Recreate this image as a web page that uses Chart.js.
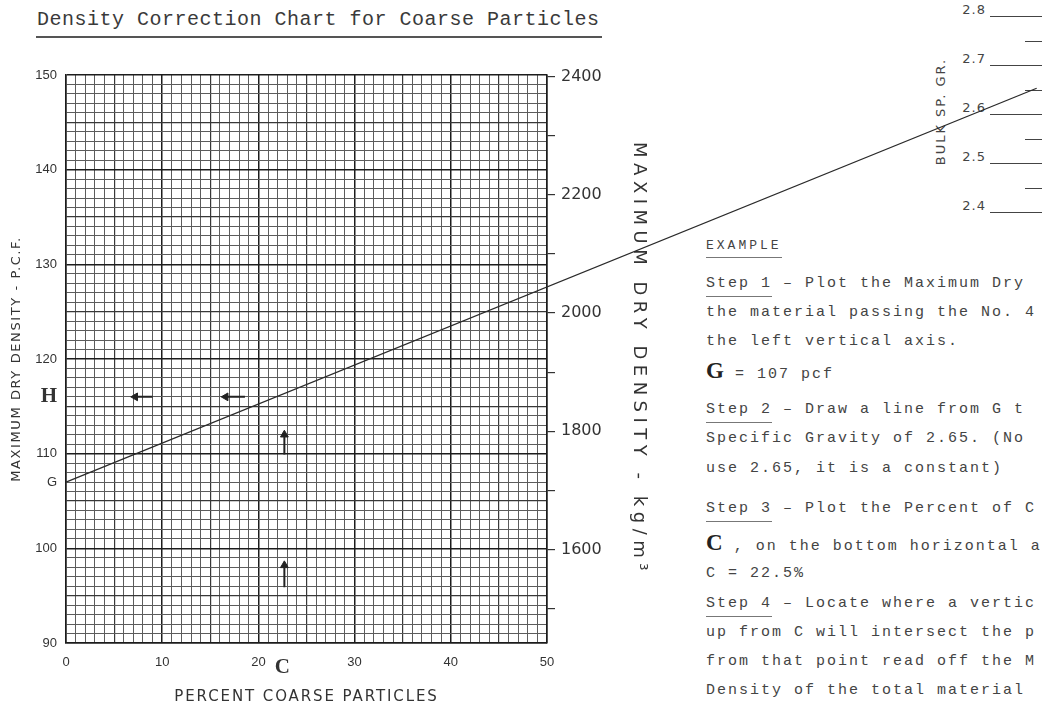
<!DOCTYPE html>
<html>
<head>
<meta charset="utf-8">
<title>Density Correction Chart for Coarse Particles</title>
<script src="https://cdn.jsdelivr.net/npm/chart.js@4.4.1/dist/chart.umd.min.js"></script>
<style>
    html, body { margin: 0; padding: 0; background: #fff; }
    #page { position: relative; width: 1042px; height: 707px; overflow: hidden; background: #fff; }
    #chartBox { position: absolute; left: 0; top: 0; width: 1042px; height: 707px; z-index: 2; }
    .txt { position: absolute; white-space: nowrap; color: #444; z-index: 1; }
    .mono { font-family: "Liberation Mono", "DejaVu Sans Mono", monospace; font-size: 15px; letter-spacing: 2px; line-height: 18px; }
    .ul { border-bottom: 1px solid #777; padding-bottom: 4px; }
    .big { font-family: "Liberation Serif", "DejaVu Serif", serif; font-weight: bold; font-size: 23px; color: #222; letter-spacing: 0; }
    #chartTitle { left: 37px; top: 8px; font-family: "Liberation Mono", monospace; font-size: 20px; letter-spacing: 0.5px; color: #3a3a3a; }
    #titleRule { position: absolute; left: 36px; top: 36px; width: 566px; height: 0; border-top: 2px solid #555; }
    .spLine { position: absolute; height: 0; border-top: 1.3px solid #444; z-index: 1; }
    .spLabel { position: absolute; width: 40px; text-align: right; font-family: "DejaVu Sans", sans-serif; font-size: 13px; letter-spacing: 1px; color: #444; }
    #spTitle { left: 882px; top: 104px; width: 116px; text-align: center; font-family: "DejaVu Sans", sans-serif; font-size: 13px; letter-spacing: 2px; transform: rotate(-90deg); }
</style>
</head>
<body>
<div id="page">
    <div class="txt" id="chartTitle">Density Correction Chart for Coarse Particles</div>
    <div id="titleRule"></div>
    <div class="txt" id="spTitle">BULK SP. GR.</div>
    <div id="spScale"></div>
    <div id="example"></div>
    <div id="chartBox"><canvas id="densityChart"></canvas></div>
</div>
<script>
// values
const percentLabels = [0, 10, 20, 30, 40, 50];
const pcfLabels = [90, 100, 110, 120, 130, 140, 150];
const kgLabels = [1600, 1800, 2000, 2200, 2400];
const kgMinorTicks = [1500, 1700, 1900, 2100, 2300];
const correctionPercent = [0, 100.9];      // from G out to 2.65 on the bulk sp. gr. scale
const correctionPcf = [107, 148.6];
const pointG = 107;
const pointH = 116;
const pointC = 22.5;
const leftArrowHeadX = [7.2, 16.6];
const leftArrowTailX = [9.0, 18.6];
const upArrowHeadY = [112.0, 98.2];
const upArrowTailY = [109.9, 95.9];
const upArrowX = 22.7;
const spGrMajor = [2.4, 2.5, 2.6, 2.7, 2.8];
const spGrMinor = [2.45, 2.55, 2.65, 2.75];

const PCF_TO_KG = 16.0185;
const INK = '#333';

// every unit of the graph paper
const percentGrid = [];
for (let i = 0; i <= 50; i++) percentGrid.push(i);
const pcfGrid = [];
for (let i = 90; i <= 150; i++) pcfGrid.push(i);

function gridColor(v) {
    if (!Number.isInteger(v)) return 'rgba(0,0,0,0)';
    if (v % 10 === 0) return '#1c1c1c';
    if (v % 5 === 0) return '#383838';
    return '#5c5c5c';
}
function gridWidth(v) {
    if (v % 10 === 0) return 1.5;
    if (v % 5 === 0) return 1.2;
    return 1;
}

// letter spaced axis titles, like the stencil lettering on the original
const titleSpacing = { x: '1.9px', y: '1.6px', y2: '5.5px' };
class SpacedLinearScale extends Chart.LinearScale {
    static id = 'spacedLinear';
    static defaults = Chart.LinearScale.defaults;
    drawTitle() {
        const ctx = this.ctx;
        ctx.letterSpacing = titleSpacing[this.id] || '0px';
        super.drawTitle();
        ctx.letterSpacing = '0px';
    }
}
Chart.register(SpacedLinearScale);

const stems = [];
leftArrowHeadX.forEach((hx, i) => {
    stems.push({ x: hx, y: pointH }, { x: leftArrowTailX[i], y: pointH }, { x: leftArrowTailX[i], y: null });
});
upArrowHeadY.forEach((hy, i) => {
    stems.push({ x: upArrowX, y: hy }, { x: upArrowX, y: upArrowTailY[i] }, { x: upArrowX, y: null });
});
const heads = leftArrowHeadX.map(x => ({ x: x, y: pointH })).concat(upArrowHeadY.map(y => ({ x: upArrowX, y: y })));
const headRotation = leftArrowHeadX.map(() => -90).concat(upArrowHeadY.map(() => 0));

const labelFont = { family: 'Liberation Sans', size: 13 };
const markFont = { family: 'Liberation Serif', size: 21, weight: 'bold' };

const ctx = document.getElementById('densityChart');
new Chart(ctx, {
    type: 'scatter',
    data: {
        datasets: [{
            label: 'Correction line',
            data: correctionPercent.map((x, i) => ({ x: x, y: correctionPcf[i] })),
            showLine: true,
            borderColor: '#2a2a2a',
            borderWidth: 1.3,
            pointRadius: 0,
            clip: false
        }, {
            label: 'Arrow stems',
            data: stems,
            showLine: true,
            spanGaps: false,
            borderColor: '#222',
            borderWidth: 2,
            pointRadius: 0
        }, {
            label: 'Arrow heads',
            data: heads,
            pointStyle: 'triangle',
            rotation: headRotation,
            pointRadius: 4.5,
            backgroundColor: '#222',
            borderColor: '#222',
            borderWidth: 1
        }]
    },
    options: {
        responsive: true,
        maintainAspectRatio: false,
        animation: false,
        layout: { padding: { left: 0, top: 75, right: 393, bottom: 0 } },
        plugins: {
            legend: { display: false },
            tooltip: { enabled: false }
        },
        scales: {
            x: {
                type: 'spacedLinear',
                position: 'bottom',
                min: 0,
                max: 50,
                afterBuildTicks: (scale) => {
                    scale.ticks = percentGrid.concat([pointC]).sort((a, b) => a - b).map(v => ({ value: v }));
                },
                afterFit: (scale) => { scale.height = 64; },
                grid: {
                    color: (c) => gridColor(c.tick.value),
                    lineWidth: (c) => gridWidth(c.tick.value),
                    drawTicks: false
                },
                border: { display: true, color: '#1c1c1c', width: 1.5 },
                ticks: {
                    autoSkip: false,
                    maxRotation: 0,
                    padding: 12,
                    color: INK,
                    callback: (v) => {
                        if (v === pointC) return 'C';
                        return percentLabels.includes(v) ? String(v) : '';
                    },
                    font: (c) => c.tick && c.tick.value === pointC ? markFont : labelFont
                },
                title: {
                    display: true,
                    text: 'PERCENT COARSE PARTICLES',
                    color: INK,
                    font: { family: 'DejaVu Sans', size: 15 },
                    padding: { top: 0, bottom: 1 }
                }
            },
            y: {
                type: 'spacedLinear',
                position: 'left',
                min: 90,
                max: 150,
                afterBuildTicks: (scale) => {
                    scale.ticks = pcfGrid.map(v => ({ value: v }));
                },
                afterFit: (scale) => { scale.width = 66; },
                grid: {
                    color: (c) => gridColor(c.tick.value),
                    lineWidth: (c) => gridWidth(c.tick.value),
                    drawTicks: false
                },
                border: { display: true, color: '#1c1c1c', width: 1.5 },
                ticks: {
                    autoSkip: false,
                    padding: 9,
                    color: INK,
                    callback: (v) => {
                        if (v === pointG) return 'G';
                        if (v === pointH) return 'H';
                        return pcfLabels.includes(v) ? String(v) : '';
                    },
                    font: (c) => c.tick && c.tick.value === pointH ? markFont : labelFont
                },
                title: {
                    display: true,
                    text: 'MAXIMUM DRY DENSITY - P.C.F.',
                    color: INK,
                    font: { family: 'DejaVu Sans', size: 13 },
                    padding: { top: 9, bottom: 0 }
                }
            },
            y2: {
                type: 'spacedLinear',
                position: 'right',
                min: 90 * PCF_TO_KG,
                max: 150 * PCF_TO_KG,
                afterBuildTicks: (scale) => {
                    scale.ticks = kgLabels.concat(kgMinorTicks).sort((a, b) => a - b).map(v => ({ value: v }));
                },
                afterFit: (scale) => { scale.width = 102; },
                grid: {
                    drawOnChartArea: false,
                    drawTicks: true,
                    tickLength: 8,
                    color: '#333',
                    lineWidth: 1.2
                },
                border: { display: true, color: '#1c1c1c', width: 1.5 },
                ticks: {
                    autoSkip: false,
                    padding: 6,
                    color: INK,
                    callback: (v) => kgLabels.includes(v) ? String(v) : '',
                    font: { family: 'DejaVu Sans', size: 16 }
                },
                title: {
                    display: true,
                    text: 'MAXIMUM DRY DENSITY - kg/m³',
                    color: INK,
                    font: { family: 'DejaVu Sans', size: 18 },
                    padding: { top: 0, bottom: 0 }
                }
            }
        }
    }
});

// bulk specific gravity scale at the far end of the line
function spGrTop(v) {
    return 212 - (v - 2.4) * 490;
}
const spScale = document.getElementById('spScale');
spGrMajor.forEach(v => {
    const line = document.createElement('div');
    line.className = 'spLine';
    line.style.left = '990px';
    line.style.width = '52px';
    line.style.top = spGrTop(v) + 'px';
    spScale.appendChild(line);
    const label = document.createElement('div');
    label.className = 'txt spLabel';
    label.style.left = '946px';
    label.style.top = (spGrTop(v) - 14) + 'px';
    label.textContent = v.toFixed(1);
    spScale.appendChild(label);
});
spGrMinor.forEach(v => {
    const line = document.createElement('div');
    line.className = 'spLine';
    line.style.left = '1025px';
    line.style.width = '17px';
    line.style.top = spGrTop(v) + 'px';
    spScale.appendChild(line);
});

// worked example text on the right
const exampleLines = [
    [246, '<span class="ul" style="font-size:13px;letter-spacing:3px">EXAMPLE</span>'],
    [284, '<span class="ul">Step 1</span> – Plot the Maximum Dry'],
    [313, 'the material passing the No. 4'],
    [342, 'the left vertical axis.'],
    [371, '<span class="big">G</span> = 107 pcf'],
    [410, '<span class="ul">Step 2</span>  – Draw a line from G t'],
    [439, 'Specific Gravity of 2.65.  (No'],
    [469, 'use 2.65, it is a constant)'],
    [509, '<span class="ul">Step 3</span> – Plot the Percent of C'],
    [543, '<span class="big">C</span> , on the bottom horizontal a'],
    [574, 'C = 22.5%'],
    [604, '<span class="ul">Step 4</span> – Locate where a vertic'],
    [633, 'up from C will intersect the p'],
    [662, 'from that point read off the M'],
    [691, 'Density of the total material']
];
const example = document.getElementById('example');
exampleLines.forEach(([y, html]) => {
    const row = document.createElement('div');
    row.className = 'txt mono';
    row.style.left = '706px';
    row.style.top = (y - 9) + 'px';
    row.innerHTML = html;
    example.appendChild(row);
});
</script>
</body>
</html>
